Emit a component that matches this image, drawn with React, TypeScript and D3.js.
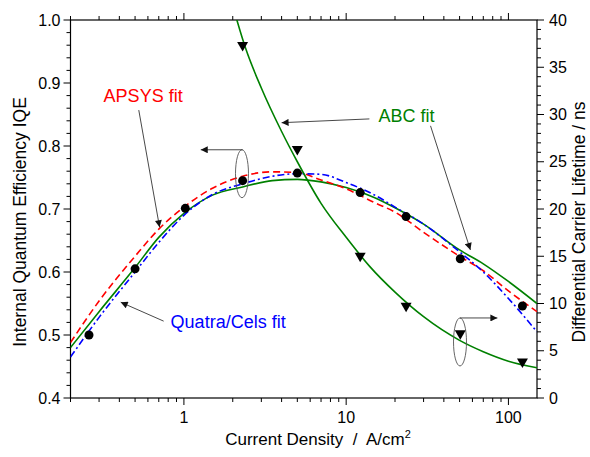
import { useMemo } from 'react';
import * as d3 from 'd3';

const W = 590, H = 457;
const MARGIN = { top: 20, right: 53, bottom: 59, left: 70.5 };

// measured points
const markerJ = [0.26, 0.5, 1.02, 2.3, 5.0, 12.2, 23.4, 50.5, 122];
const markerIQE = [0.5, 0.605, 0.701, 0.745, 0.757, 0.726, 0.688, 0.621, 0.546];
const lifeJ = [2.3, 5.0, 12.2, 23.4, 50.5, 122];
const lifeNs = [37.2, 26.2, 14.9, 9.6, 6.7, 3.7];

// fit curves
const fitJ = [0.2, 0.3, 0.5, 0.7, 1, 1.5, 2.3, 3.5, 5, 7, 10, 15, 20, 30, 50, 70, 100, 150];
const apsysIQE = [0.488, 0.554, 0.625, 0.668, 0.703, 0.733, 0.752, 0.759, 0.758, 0.746, 0.732, 0.71, 0.695, 0.663, 0.625, 0.602, 0.57, 0.537];
const quatraIQE = [0.465, 0.528, 0.6, 0.647, 0.69, 0.723, 0.74, 0.752, 0.756, 0.755, 0.742, 0.722, 0.703, 0.676, 0.632, 0.6, 0.558, 0.505];
const abcIQE = [0.48, 0.537, 0.607, 0.655, 0.693, 0.722, 0.735, 0.745, 0.747, 0.743, 0.734, 0.718, 0.702, 0.676, 0.635, 0.613, 0.585, 0.55];
const abcLifeJ = [2.0, 2.4, 3.0, 4.0, 5.0, 7.0, 10, 14, 20, 30, 50, 70, 100, 150];
const abcLifeNs = [41.5, 37.0, 32.8, 28.2, 25.0, 20.6, 17.0, 13.9, 11.2, 8.6, 6.1, 4.9, 3.9, 3.2];

const xMajor = [1, 10, 100];
const FONT = '"Liberation Sans", Arial, sans-serif';

export default function App() {
  const left = MARGIN.left, right = W - MARGIN.right;
  const top = MARGIN.top, bottom = H - MARGIN.bottom;

  const x = useMemo(() => d3.scaleLog().domain([0.2, 150]).range([left, right]), []);
  const yL = useMemo(() => d3.scaleLinear().domain([0.4, 1.0]).range([bottom, top]), []);
  const yR = useMemo(() => d3.scaleLinear().domain([0, 40]).range([bottom, top]), []);

  const lineL = d3.line<[number, number]>().x(d => x(d[0])).y(d => yL(d[1])).curve(d3.curveMonotoneX);
  const lineR = d3.line<[number, number]>().x(d => x(d[0])).y(d => yR(d[1])).curve(d3.curveMonotoneX);

  const zip = (a: number[], b: number[]) => a.map((v, i) => [v, b[i]] as [number, number]);

  const xTicks = x.ticks();
  const yLTicks = yL.ticks(30);
  const yRTicks = yR.ticks(40);
  const isMajorL = (v: number) => Math.abs(v * 10 - Math.round(v * 10)) < 1e-6;

  const arrow = (x1: number, y1: number, x2: number, y2: number, key: string) => (
    <line key={key} x1={x1} y1={y1} x2={x2} y2={y2} stroke="#333" strokeWidth={0.9} markerEnd="url(#ah)" />
  );

  const tri = (cx: number, cy: number) => `M${cx - 5.5},${cy - 4.5} L${cx + 5.5},${cy - 4.5} L${cx},${cy + 5} Z`;

  return (
    <svg width={W} height={H} style={{ position: 'absolute', left: 0, top: 0, background: '#fff' }} fontFamily={FONT}>
      <defs>
        <clipPath id="plot">
          <rect x={left} y={top} width={right - left} height={bottom - top} />
        </clipPath>
        <marker id="ah" viewBox="0 0 10 10" refX={10} refY={5} markerWidth={10} markerHeight={7} markerUnits="userSpaceOnUse" orient="auto">
          <path d="M0,0 L10,5 L0,10 Z" fill="#111" />
        </marker>
      </defs>

      {/* frame */}
      <rect x={left} y={top} width={right - left} height={bottom - top} fill="none" stroke="#000" strokeWidth={1.2} />

      {/* x ticks bottom + top */}
      {xTicks.map((t, i) => {
        const major = xMajor.includes(t);
        const len = major ? 7 : 4;
        return (
          <g key={'xt' + i}>
            <line x1={x(t)} x2={x(t)} y1={bottom} y2={bottom + len} stroke="#000" />
            <line x1={x(t)} x2={x(t)} y1={top} y2={top - len} stroke="#000" />
          </g>
        );
      })}
      {xMajor.map(t => (
        <text key={'xl' + t} x={x(t)} y={bottom + 25} textAnchor="middle" fontSize={16}>{t}</text>
      ))}

      {/* left ticks */}
      {yLTicks.map((t, i) => {
        const major = isMajorL(t);
        return <line key={'yl' + i} x1={left} x2={left - (major ? 7 : 4)} y1={yL(t)} y2={yL(t)} stroke="#000" />;
      })}
      {yLTicks.filter(isMajorL).map((t, i) => (
        <text key={'yll' + i} x={left - 10} y={yL(t)} dy="0.35em" textAnchor="end" fontSize={16}>{t.toFixed(1)}</text>
      ))}

      {/* right ticks */}
      {yRTicks.map((t, i) => {
        const major = t % 5 === 0;
        return <line key={'yr' + i} x1={right} x2={right + (major ? 7 : 4)} y1={yR(t)} y2={yR(t)} stroke="#000" />;
      })}
      {yRTicks.filter(t => t % 5 === 0).map((t, i) => (
        <text key={'yrl' + i} x={right + 12} y={yR(t)} dy="0.35em" textAnchor="start" fontSize={16}>{t}</text>
      ))}

      {/* axis titles */}
      <text transform={`translate(20,${(top + bottom) / 2 + 13}) rotate(-90)`} textAnchor="middle" dominantBaseline="central" fontSize={17.5}>
        Internal Quantum Efficiency IQE
      </text>
      <text transform={`translate(579,${(top + bottom) / 2 + 13}) rotate(-90)`} textAnchor="middle" dominantBaseline="central" fontSize={17.5}>
        Differential Carrier Lifetime / ns
      </text>
      <text x={318} y={445} textAnchor="middle" fontSize={17} style={{ whiteSpace: 'pre' }}>
        {'Current Density  /  A/cm'}
        <tspan fontSize={11} dy={-7}>2</tspan>
      </text>

      {/* curves */}
      <g clipPath="url(#plot)" fill="none" strokeWidth={1.6}>
        <path d={lineL(zip(fitJ, abcIQE)) || ''} stroke="#008000" />
        <path d={lineL(zip(fitJ, apsysIQE)) || ''} stroke="#ff0000" strokeDasharray="7,4" />
        <path d={lineL(zip(fitJ, quatraIQE)) || ''} stroke="#0000ff" strokeDasharray="7,3,2,3" />
        <path d={lineR(zip(abcLifeJ, abcLifeNs)) || ''} stroke="#008000" />
      </g>

      {/* markers */}
      {markerJ.map((j, i) => (
        <circle key={'c' + i} cx={x(j)} cy={yL(markerIQE[i])} r={4.5} fill="#000" />
      ))}
      {lifeJ.map((j, i) => (
        <path key={'t' + i} d={tri(x(j), yR(lifeNs[i]))} fill="#000" />
      ))}

      {/* annotations */}
      <text x={x(0.32)} y={yL(0.87)} fontSize={18} fill="#ff0000">APSYS fit</text>
      {arrow(x(0.527), yL(0.857), x(0.708), yL(0.671), 'a1')}

      <text x={x(15.8)} y={yL(0.838)} fontSize={18} fill="#008000">ABC fit</text>
      {arrow(x(13.9), yL(0.843), x(4.0), yL(0.837), 'a2')}
      {arrow(x(33.1), yL(0.832), x(58.3), yL(0.635), 'a3')}

      <text x={x(0.828)} y={yL(0.511)} fontSize={18} fill="#0000ff">Quatra/Cels fit</text>
      {arrow(x(0.75), yL(0.522), x(0.408), yL(0.552), 'a4')}

      <ellipse cx={x(2.28)} cy={yL(0.756)} rx={6.5} ry={24} fill="none" stroke="#555" strokeWidth={0.9} />
      {arrow(x(2.3), yL(0.794), x(1.27), yL(0.794), 'a5')}

      <ellipse cx={x(50.3)} cy={yR(5.93)} rx={6.5} ry={24} fill="none" stroke="#555" strokeWidth={0.9} />
      {arrow(x(50.3), yR(8.47), x(85.5), yR(8.47), 'a6')}
    </svg>
  );
}
